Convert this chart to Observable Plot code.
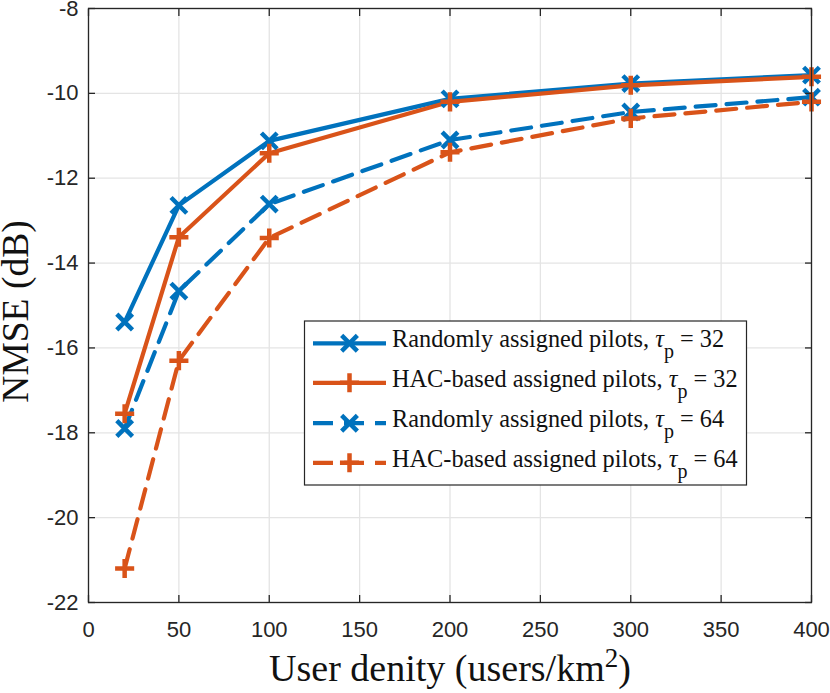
<!DOCTYPE html>
<html><head><meta charset="utf-8">
<script src="https://cdn.jsdelivr.net/npm/d3@7"></script>
<script src="https://cdn.jsdelivr.net/npm/@observablehq/plot@0.6"></script>
<style>body{margin:0;background:#fff}#chart{width:830px;height:693px}</style>
</head><body><div id="chart"></div>
<script>
// ---- data ----
const density = [20, 50, 100, 200, 300, 400];
const random32 = [-15.39, -12.64, -11.12, -10.13, -9.77, -9.57];
const hac32    = [-17.55, -13.39, -11.41, -10.20, -9.81, -9.61];
const random64 = [-17.90, -14.66, -12.61, -11.10, -10.44, -10.09];
const hac64    = [-21.20, -16.30, -13.41, -11.39, -10.59, -10.20];
const seriesNames = ["Randomly assigned pilots", "HAC-based assigned pilots", "Randomly assigned pilots", "HAC-based assigned pilots"];
const tauValues = [32, 32, 64, 64];
const xTicks = [0, 50, 100, 150, 200, 250, 300, 350, 400];
const yTicks = [-22, -20, -18, -16, -14, -12, -10, -8];

// ---- styles ----
const BLUE = "#0072BD", ORANGE = "#D95319";
const styles = [
  {color: BLUE, dash: null, symbol: "times", r: 7.2},
  {color: ORANGE, dash: null, symbol: "plus", r: 6.2},
  {color: BLUE, dash: "20,11", symbol: "times", r: 7.2},
  {color: ORANGE, dash: "20,11", symbol: "plus", r: 6.2}
];
const allValues = [random32, hac32, random64, hac64];
const series = allValues.map((vals, i) => ({
  key: i,
  rows: density.map((x, j) => ({x, y: vals[j], s: i})),
  ...styles[i]
}));

const fmt = d => String(d);
const axisColor = "#262626";

const marks = [
  Plot.gridX(xTicks, {stroke: "#e4e4e4", strokeOpacity: 1, strokeWidth: 1.3}),
  Plot.gridY(yTicks, {stroke: "#e4e4e4", strokeOpacity: 1, strokeWidth: 1.3}),
  ...series.map(s => Plot.line(s.rows, {x: "x", y: "y", stroke: s.color, strokeWidth: 4.2, strokeDasharray: s.dash, strokeLinejoin: "round"})),
  ...series.map(s => Plot.dot(s.rows, {x: "x", y: "y", symbol: s.symbol, r: s.r, stroke: s.color, strokeWidth: 4.5})),
  Plot.frame({stroke: axisColor, strokeWidth: 1.3}),
  Plot.axisX(xTicks, {anchor: "bottom", tickSize: -7, text: null, label: null, stroke: axisColor, strokeWidth: 1.3}),
  Plot.axisX(xTicks, {anchor: "top", tickSize: -7, text: null, label: null, stroke: axisColor, strokeWidth: 1.3}),
  Plot.axisY(yTicks, {anchor: "left", tickSize: -7, text: null, label: null, stroke: axisColor, strokeWidth: 1.3}),
  Plot.axisY(yTicks, {anchor: "right", tickSize: -7, text: null, label: null, stroke: axisColor, strokeWidth: 1.3}),
  Plot.axisX(xTicks, {anchor: "bottom", tickSize: 0, tickPadding: 19, tickFormat: fmt, label: null, fill: axisColor}),
  Plot.axisY(yTicks, {anchor: "left", tickSize: 0, tickPadding: 10, tickFormat: fmt, label: null, fill: axisColor})
];

const chart = Plot.plot({
  width: 830, height: 693,
  marginLeft: 88, marginRight: 19, marginTop: 8, marginBottom: 91,
  x: {domain: [0, 400]},
  y: {domain: [-22, -8]},
  style: {fontFamily: "'Liberation Sans', Arial, sans-serif", fontSize: "22px", color: axisColor, background: "#fff"},
  marks
});
document.getElementById("chart").appendChild(chart);

// ---- axis titles and legend ----
const svg = d3.select(chart);
const serif = "'Liberation Serif', 'Times New Roman', serif";

const xl = svg.append("text").attr("x", 450).attr("y", 681).attr("text-anchor", "middle")
  .attr("font-family", serif).attr("font-size", 38).attr("fill", "#111");
xl.append("tspan").text("User denity (users/km");
xl.append("tspan").attr("dy", -14).attr("font-size", 27).text("2");
xl.append("tspan").attr("dy", 14).text(")");

svg.append("text").attr("transform", "translate(28,311.5) rotate(-90)").attr("text-anchor", "middle")
  .attr("font-family", serif).attr("font-size", 37.5).attr("fill", "#111").text("NMSE (dB)");

const lg = svg.append("g");
lg.append("rect").attr("x", 304.5).attr("y", 321).attr("width", 442).attr("height", 164)
  .attr("fill", "#fff").attr("stroke", axisColor).attr("stroke-width", 1.2);
const rowY = [343.3, 382.8, 423.2, 462.8];
series.forEach((s, i) => {
  const y = rowY[i];
  lg.append("line").attr("x1", 313).attr("x2", 386).attr("y1", y).attr("y2", y)
    .attr("stroke", s.color).attr("stroke-width", 4.2).attr("stroke-dasharray", s.dash);
  const sym = s.symbol === "times" ? d3.symbolTimes : d3.symbolPlus;
  lg.append("path").attr("transform", `translate(349.5,${y})`)
    .attr("d", d3.symbol(sym, Math.PI * s.r * s.r)())
    .attr("fill", "none").attr("stroke", s.color).attr("stroke-width", 4.5);
  const t = lg.append("text").attr("x", 392).attr("y", y + 3.8).attr("text-anchor", "start")
    .attr("font-family", serif).attr("font-size", 24.3).attr("fill", "#111");
  t.append("tspan").text(seriesNames[i] + ", ");
  t.append("tspan").attr("font-style", "italic").text("τ");
  t.append("tspan").attr("dy", 11).attr("font-size", 20).text("p");
  t.append("tspan").attr("dy", -11).text(" = " + tauValues[i]);
});
</script>
</body></html>
